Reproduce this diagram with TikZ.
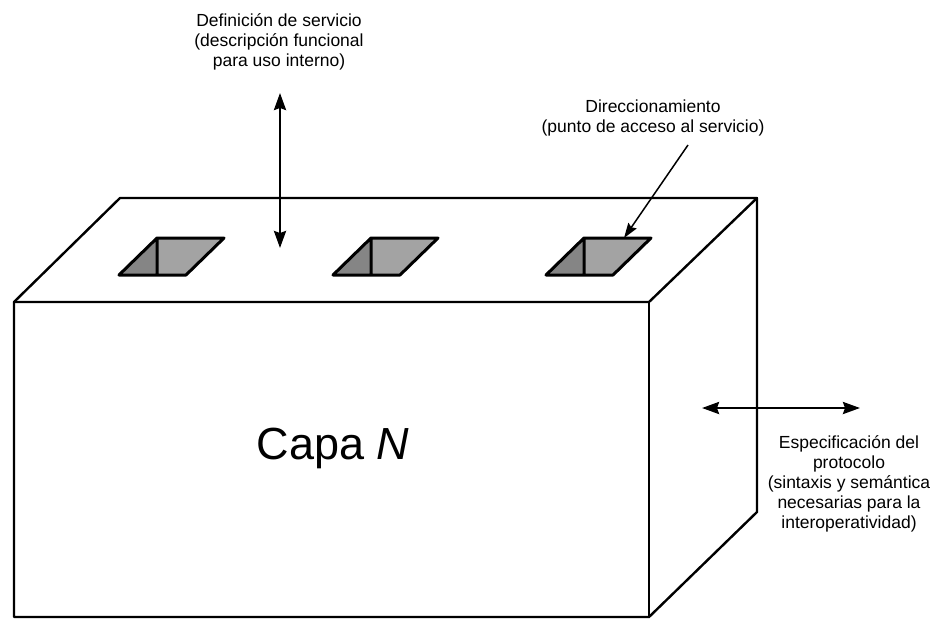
\documentclass[tikz,border=0pt]{standalone}
\usepackage{fontspec}
\setmainfont{Liberation Sans}
\usetikzlibrary{arrows.meta}
\definecolor{holelight}{gray}{0.64}
\definecolor{holedark}{gray}{0.52}

\tikzset{
  txt/.style={align=center, inner sep=0pt, font=\fontsize{17.5}{20}\selectfont},
  edge/.style={line width=2.4pt, line join=round, line cap=round},
  hole/.style={line width=3pt, line join=round},
}

\begin{document}
\begin{tikzpicture}[x=1pt,y=-1pt]
\useasboundingbox (0,0) rectangle (937,619);

% corners of the block
\coordinate (fl) at (14,302);
\coordinate (fr) at (649,302);
\coordinate (bl) at (120,198);
\coordinate (br) at (757,198);
\coordinate (fbl) at (14,617);
\coordinate (fbr) at (649,617);
\coordinate (bbr) at (757,512);

\draw [edge] (fbl) -- (fl) -- (bl) -- (br) -- (bbr) -- (fbr) -- cycle;
\draw [edge] (fl) -- (fr) -- (br);
\draw [edge] (fr) -- (fbr);

% service access points
\begin{scope}[xshift=157pt]
\fill [holelight] (0,238) -- (67,238) -- (29,275) -- (0,275) -- cycle;
\fill [holedark] (0,238) -- (0,275) -- (-38,275) -- cycle;
\draw [hole] (0,238) -- (67,238) -- (29,275) -- (-38,275) -- cycle (0,238) -- (0,275);
\end{scope}
\begin{scope}[xshift=371pt]
\fill [holelight] (0,238) -- (67,238) -- (29,275) -- (0,275) -- cycle;
\fill [holedark] (0,238) -- (0,275) -- (-38,275) -- cycle;
\draw [hole] (0,238) -- (67,238) -- (29,275) -- (-38,275) -- cycle (0,238) -- (0,275);
\end{scope}
\begin{scope}[xshift=584pt]
\fill [holelight] (0,238) -- (67,238) -- (29,275) -- (0,275) -- cycle;
\fill [holedark] (0,238) -- (0,275) -- (-38,275) -- cycle;
\draw [hole] (0,238) -- (67,238) -- (29,275) -- (-38,275) -- cycle (0,238) -- (0,275);
\coordinate (sap) at (40,238);
\end{scope}

\node [txt] (def) at (279,42) {Definición de servicio\\(descripción funcional\\para uso interno)};
\node [txt] (dir) at (653,118) {Direccionamiento\\(punto de acceso al servicio)};
\node [txt] (esp) at (849,484) {Especificación del\\protocolo\\(sintaxis y semántica\\necesarias para la\\interoperatividad)};
\node (capa) at (333,448) {\fontsize{45}{50}\selectfont Capa \textit{N}};

\coordinate (up) at (280,93);
\coordinate (down) at (280,248);
\coordinate (west) at (702,408);
\coordinate (east) at (860,408);
\coordinate (from) at (688,145);

\begin{scope}[>={Stealth[length=17pt,width=12pt,inset=2pt]}]
\draw [<->, line width=2.5pt] (up) -- (down);
\draw [<->, line width=2.5pt] (west) -- (east);
\end{scope}
\draw [-{Stealth[length=15pt,width=10pt,inset=2pt]}, line width=1.5pt] (from) -- (sap);
\end{tikzpicture}
\end{document}
